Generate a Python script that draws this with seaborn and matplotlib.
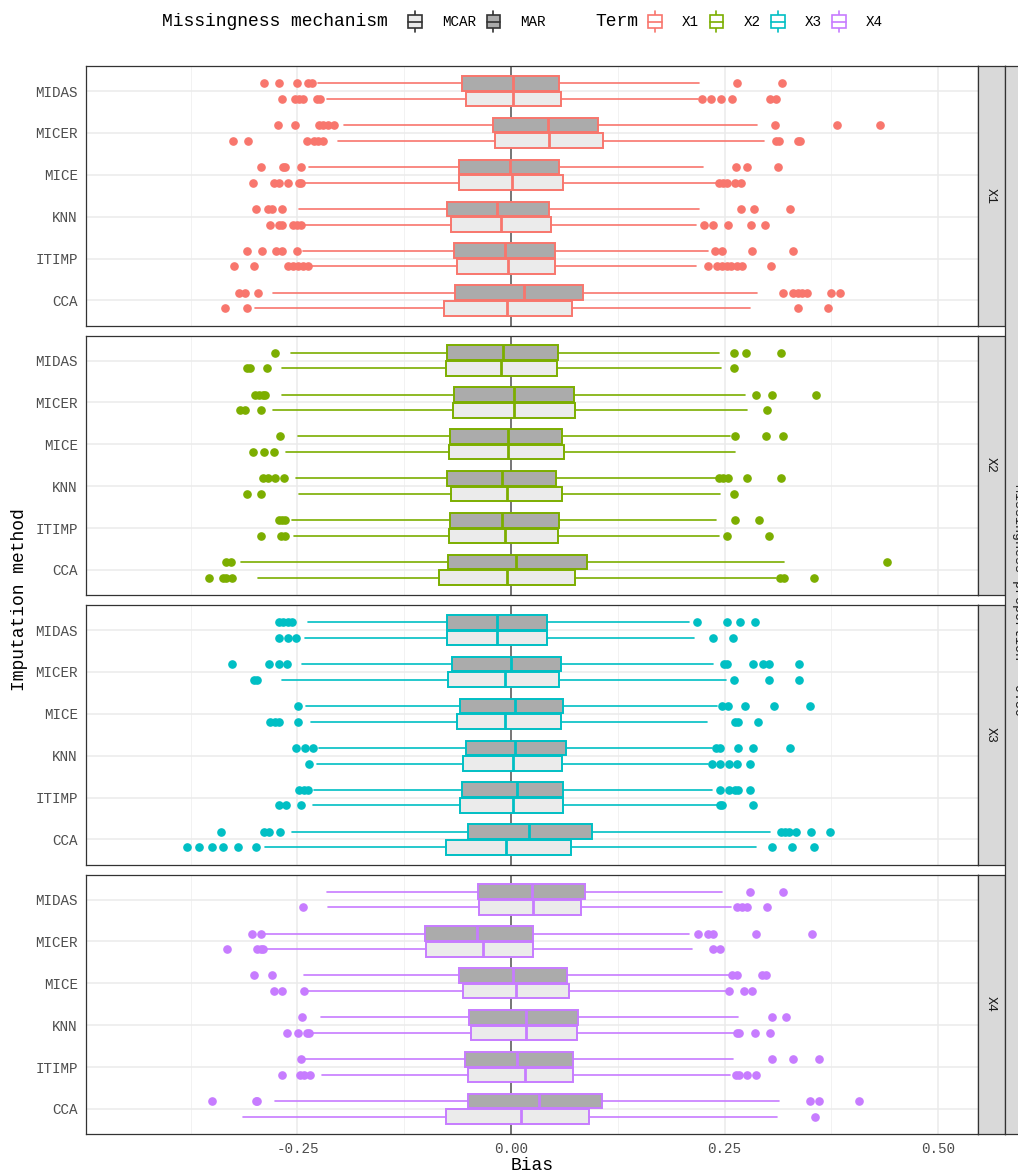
import matplotlib
matplotlib.use("Agg")
import numpy as np
import matplotlib.pyplot as plt
import matplotlib.patches as mpatches
import matplotlib.lines as mlines
from matplotlib.legend_handler import HandlerBase
from matplotlib.font_manager import FontProperties
import seaborn as sns

sns.set_theme(style="white")
plt.rcParams["font.family"] = ["Liberation Mono", "DejaVu Sans Mono"]

# ---------------------------------------------------------------- data
methods = ["CCA", "ITIMP", "KNN", "MICE", "MICER", "MIDAS"]
terms = ["X1", "X2", "X3", "X4"]
mechanisms = ["MCAR", "MAR"]
x_ticks = [-0.25, 0.0, 0.25, 0.50]
x_tick_labels = ["-0.25", "0.00", "0.25", "0.50"]

# rows follow `methods`; columns: lower whisker, Q1, median, Q3, upper whisker
X1_MAR = [[-0.278, -0.0655, 0.0152, 0.0839, 0.288],
          [-0.243, -0.0667, -0.007, 0.052, 0.231],
          [-0.248, -0.0745, -0.016, 0.045, 0.220],
          [-0.236, -0.0605, -0.001, 0.0566, 0.225],
          [-0.196, -0.0207, 0.0437, 0.102, 0.2876],
          [-0.2255, -0.0577, 0.002, 0.0566, 0.220]]
X1_MAR_OUT = [[-0.318, -0.311, -0.296, 0.318, 0.330, 0.336, 0.341, 0.347, 0.375, 0.385],
              [-0.309, -0.291, -0.2755, -0.268, -0.251, 0.239, 0.2466, 0.2825, 0.330],
              [-0.298, -0.284, -0.280, -0.268, 0.269, 0.284, 0.327],
              [-0.293, -0.267, -0.2645, -0.246, 0.263, 0.276, 0.312],
              [-0.273, -0.253, -0.225, -0.220, -0.214, -0.207, 0.309, 0.381, 0.432],
              [-0.289, -0.271, -0.250, -0.237, -0.233, 0.2645, 0.317]]
X1_MCAR = [[-0.2997, -0.078, -0.005, 0.072, 0.2797],
           [-0.235, -0.0636, -0.004, 0.0515, 0.217],
           [-0.243, -0.0706, -0.012, 0.0464, 0.216],
           [-0.243, -0.0605, 0.0016, 0.061, 0.241],
           [-0.202, -0.0187, 0.0445, 0.108, 0.2965],
           [-0.215, -0.0527, 0.0027, 0.058, 0.219]]
X1_MCAR_OUT = [[-0.335, -0.309, 0.3355, 0.3707],
               [-0.324, -0.301, -0.261, -0.255, -0.249, -0.243, -0.237,
                0.231, 0.241, 0.2466, 0.2524, 0.2575, 0.264, 0.270, 0.304],
               [-0.282, -0.272, -0.268, -0.2555, -0.250, -0.246, 0.226, 0.236, 0.2536, 0.2805, 0.297],
               [-0.302, -0.277, -0.272, -0.261, -0.248, -0.246, 0.243, 0.2485, 0.2525, 0.262, 0.269],
               [-0.325, -0.308, -0.239, -0.231, -0.2255, -0.220, 0.310, 0.314, 0.3355, 0.338],
               [-0.268, -0.253, -0.248, -0.244, -0.227, -0.2236, 0.224, 0.234, 0.246, 0.259, 0.303, 0.310]]

X2_MAR = [[-0.316, -0.0733, 0.0059, 0.0893, 0.320],
          [-0.2567, -0.0714, -0.011, 0.0566, 0.2396],
          [-0.252, -0.0745, -0.010, 0.0523, 0.2407],
          [-0.2497, -0.0714, -0.003, 0.0593, 0.2563],
          [-0.268, -0.0667, 0.0039, 0.0737, 0.274],
          [-0.258, -0.0753, -0.0098, 0.0554, 0.2435]]
X2_MAR_OUT = [[-0.333, -0.3277, 0.4397],
              [-0.271, -0.268, -0.265, 0.262, 0.2907],
              [-0.2907, -0.284, -0.276, -0.266, 0.243, 0.2485, 0.2536, 0.2766, 0.3155],
              [-0.270, 0.262, 0.298, 0.318],
              [-0.2997, -0.295, -0.290, -0.288, 0.2868, 0.306, 0.3566],
              [-0.276, 0.2614, 0.2747, 0.316]]
X2_MCAR = [[-0.2957, -0.0843, -0.005, 0.0749, 0.310],
           [-0.254, -0.0722, -0.007, 0.0546, 0.2435],
           [-0.248, -0.0702, -0.005, 0.0593, 0.2446],
           [-0.2638, -0.0722, -0.003, 0.0624, 0.262],
           [-0.279, -0.0675, 0.0035, 0.0745, 0.276],
           [-0.2677, -0.076, -0.0117, 0.0542, 0.2458]]
X2_MCAR_OUT = [[-0.353, -0.337, -0.333, -0.326, 0.3149, 0.320, 0.3547],
               [-0.293, -0.269, -0.2645, 0.2524, 0.302],
               [-0.309, -0.293, 0.2606],
               [-0.3016, -0.2887, -0.277],
               [-0.317, -0.311, -0.293, 0.300],
               [-0.309, -0.306, -0.286, 0.2606]]

X3_MAR = [[-0.2567, -0.0507, 0.0215, 0.0944, 0.303],
          [-0.2306, -0.0577, 0.0074, 0.0613, 0.2349],
          [-0.2243, -0.0527, 0.0047, 0.064, 0.2349],
          [-0.240, -0.0597, 0.0047, 0.0613, 0.2407],
          [-0.245, -0.0687, 0.0, 0.058, 0.2368],
          [-0.237, -0.0745, -0.016, 0.0417, 0.2087]]
X3_MAR_OUT = [[-0.3398, -0.2887, -0.283, -0.270, 0.316, 0.3207, 0.3254, 0.334, 0.3508, 0.3734],
              [-0.248, -0.2423, -0.237, 0.2446, 0.2548, 0.262, 0.266, 0.2797],
              [-0.2517, -0.241, -0.232, 0.240, 0.2446, 0.2653, 0.2836, 0.3266],
              [-0.249, 0.2466, 0.2544, 0.274, 0.3078, 0.3496],
              [-0.326, -0.283, -0.271, -0.2626, 0.2493, 0.2524, 0.283, 0.2954, 0.302, 0.337],
              [-0.272, -0.267, -0.2615, -0.256, 0.218, 0.253, 0.268, 0.2856]]
X3_MCAR = [[-0.288, -0.076, -0.006, 0.0702, 0.2864],
           [-0.2314, -0.0597, 0.002, 0.0613, 0.2407],
           [-0.2267, -0.0566, 0.0027, 0.060, 0.231],
           [-0.2345, -0.0628, -0.007, 0.058, 0.229],
           [-0.2677, -0.0733, -0.007, 0.0566, 0.2517],
           [-0.241, -0.0753, -0.016, 0.0417, 0.214]]
X3_MCAR_OUT = [[-0.3796, -0.365, -0.3504, -0.3375, -0.319, -0.2989, 0.305, 0.3293, 0.3547],
               [-0.272, -0.2638, -0.2458, 0.2446, 0.2466, 0.2836],
               [-0.2364, 0.2357, 0.2446, 0.2548, 0.2641, 0.2797],
               [-0.282, -0.276, -0.271, -0.249, 0.262, 0.266, 0.2887],
               [-0.301, -0.297, 0.2606, 0.302, 0.337],
               [-0.271, -0.2614, -0.252, 0.236, 0.260]]

X4_MAR = [[-0.2762, -0.0507, 0.0328, 0.1061, 0.3137],
          [-0.243, -0.0538, 0.0074, 0.073, 0.260],
          [-0.2228, -0.0488, 0.0176, 0.078, 0.2661],
          [-0.2423, -0.0609, 0.002, 0.065, 0.2563],
          [-0.288, -0.1007, -0.0402, 0.026, 0.2087],
          [-0.2158, -0.039, 0.0242, 0.0866, 0.2474]]
X4_MAR_OUT = [[-0.350, -0.2985, -0.297, 0.350, 0.360, 0.4077],
              [-0.2458, 0.3051, 0.330, 0.360],
              [-0.245, 0.3051, 0.3215],
              [-0.3008, -0.280, 0.259, 0.264, 0.294, 0.299],
              [-0.3028, -0.2926, 0.2193, 0.231, 0.236, 0.2868, 0.3527],
              [0.2797, 0.318]]
X4_MCAR = [[-0.314, -0.0765, 0.0113, 0.0913, 0.311],
           [-0.2216, -0.050, 0.0164, 0.073, 0.2563],
           [-0.2333, -0.0468, 0.0176, 0.0769, 0.262],
           [-0.240, -0.0558, 0.0059, 0.0679, 0.2524],
           [-0.287, -0.0995, -0.0332, 0.026, 0.2122],
           [-0.2146, -0.0371, 0.026, 0.0819, 0.2571]]
X4_MCAR_OUT = [[0.3558],
               [-0.2684, -0.247, -0.2423, -0.235, 0.2634, 0.267, 0.2766, 0.2864],
               [-0.2626, -0.2497, -0.239, -0.236, 0.264, 0.267, 0.2856, 0.303],
               [-0.2774, -0.2684, -0.2423, 0.2555, 0.2727, 0.2825],
               [-0.332, -0.297, -0.2926, -0.290, 0.2368, 0.2446],
               [-0.2439, 0.265, 0.270, 0.276, 0.300]]

panel_data = {
    "X1": {"MAR": (X1_MAR, X1_MAR_OUT), "MCAR": (X1_MCAR, X1_MCAR_OUT)},
    "X2": {"MAR": (X2_MAR, X2_MAR_OUT), "MCAR": (X2_MCAR, X2_MCAR_OUT)},
    "X3": {"MAR": (X3_MAR, X3_MAR_OUT), "MCAR": (X3_MCAR, X3_MCAR_OUT)},
    "X4": {"MAR": (X4_MAR, X4_MAR_OUT), "MCAR": (X4_MCAR, X4_MCAR_OUT)},
}

# ---------------------------------------------------------------- styling
term_colors = dict(zip(terms, ["#F8766D", "#7CAE00", "#00BFC4", "#C77CFF"]))
mech_fill = {"MCAR": "#EBEBEB", "MAR": "#ABABAB"}
mech_offset = {"MCAR": -0.1875, "MAR": 0.1875}
box_width = 0.35
mono = "Liberation Mono"

W, H = 1018, 1174
fig = plt.figure(figsize=(W / 100, H / 100), dpi=100)


def fx(px):
    return px / W


def fy(px):
    return 1 - px / H


panel_left, panel_right = 86, 978
panel_tops = [66, 335.5, 605, 874.5]
panel_h = 259.5
xlim = (-0.4974, 0.5466)


def to_stats(table, outliers):
    return [dict(whislo=r[0], q1=r[1], med=r[2], q3=r[3], whishi=r[4],
                 fliers=np.asarray(o, dtype=float))
            for r, o in zip(table, outliers)]


base_pos = np.arange(1, len(methods) + 1, dtype=float)

for i, term in enumerate(terms):
    top = panel_tops[i]
    ax = fig.add_axes([fx(panel_left), fy(top + panel_h),
                       fx(panel_right - panel_left), panel_h / H])
    ax.set_facecolor("white")
    col = term_colors[term]

    # grid
    for gx in [-0.375, -0.125, 0.125, 0.375]:
        ax.axvline(gx, color="#F2F2F2", lw=0.7, zorder=0)
    for gx in x_ticks:
        ax.axvline(gx, color="#EBEBEB", lw=1.1, zorder=0)
    for gy in base_pos:
        ax.axhline(gy, color="#EBEBEB", lw=1.1, zorder=0)
    ax.axvline(0, color="#555555", lw=1.1, zorder=0.5)

    for mech in ["MAR", "MCAR"]:
        table, outs = panel_data[term][mech]
        ax.bxp(to_stats(table, outs),
               positions=base_pos + mech_offset[mech],
               widths=box_width, orientation="horizontal",
               patch_artist=True, showcaps=False, manage_ticks=False,
               boxprops=dict(facecolor=mech_fill[mech], edgecolor=col, linewidth=1.4),
               medianprops=dict(color=col, linewidth=2.0),
               whiskerprops=dict(color=col, linewidth=1.2),
               flierprops=dict(marker="o", markerfacecolor=col, markeredgecolor=col,
                               markersize=5.2, linestyle="none"))

    ax.set_xlim(*xlim)
    ax.set_ylim(0.4, len(methods) + 0.6)
    ax.set_yticks(base_pos)
    ax.set_yticklabels(methods, fontsize=10.3, color="#4D4D4D", family=mono)
    ax.set_xticks(x_ticks)
    if i == len(terms) - 1:
        ax.set_xticklabels(x_tick_labels, fontsize=10.3, color="#4D4D4D", family=mono)
        ax.tick_params(axis="x", length=3, width=0.9, color="#333333", pad=3)
    else:
        ax.set_xticklabels([])
        ax.tick_params(axis="x", length=0)
    ax.tick_params(axis="y", length=3, width=0.9, color="#333333", pad=3)
    for s in ax.spines.values():
        s.set_color("#333333")
        s.set_linewidth(0.9)
    ax.grid(False)

    # facet strip for the term
    sax = fig.add_axes([fx(panel_right), fy(top + panel_h), fx(26.5), panel_h / H])
    sax.set_facecolor("#D9D9D9")
    sax.set_xticks([])
    sax.set_yticks([])
    for s in sax.spines.values():
        s.set_color("#333333")
        s.set_linewidth(0.9)
    sax.text(0.5, 0.5, term, rotation=-90, ha="center", va="center",
             fontsize=9.5, color="#1A1A1A", family=mono, transform=sax.transAxes)

# outer strip spanning all panels
oax = fig.add_axes([fx(1004.5), fy(panel_tops[-1] + panel_h), fx(27),
                    (panel_tops[-1] + panel_h - panel_tops[0]) / H])
oax.set_facecolor("#D9D9D9")
oax.set_xticks([])
oax.set_yticks([])
for s in oax.spines.values():
    s.set_color("#333333")
    s.set_linewidth(0.9)
oax.text(0.5, 0.5, "Missingness proportion = 0.50", rotation=-90, ha="center",
         va="center", fontsize=9.5, color="#1A1A1A", family=mono,
         transform=oax.transAxes)

# axis titles
fig.text(fx((panel_left + panel_right) / 2), fy(1165), "Bias", ha="center",
         va="center", fontsize=13, color="black", family=mono)
fig.text(fx(20), fy(600), "Imputation method", rotation=90, ha="center",
         va="center", fontsize=13, color="black", family=mono)


# ---------------------------------------------------------------- legends
class BoxKey(HandlerBase):
    def create_artists(self, legend, orig_handle, xdescent, ydescent,
                       width, height, fontsize, trans):
        fc = orig_handle.get_facecolor()
        ec = orig_handle.get_edgecolor()
        cx = width / 2 - xdescent
        cy = height / 2 - ydescent
        bw = width * 0.68
        bh = height
        whisker = mlines.Line2D([cx, cx], [cy - height * 0.78, cy + height * 0.78],
                                color=ec, lw=1.2, transform=trans)
        box = mpatches.Rectangle((cx - bw / 2, cy - bh / 2), bw, bh, facecolor=fc,
                                 edgecolor=ec, lw=1.2, transform=trans)
        med = mlines.Line2D([cx - bw / 2, cx + bw / 2], [cy, cy], color=ec,
                            lw=1.2, transform=trans)
        return [whisker, box, med]


leg_font = FontProperties(family=mono, size=10.3)
leg_y = fy(22)
fig.text(fx(162), leg_y, "Missingness mechanism", ha="left", va="center",
         fontsize=13, color="black", family=mono)
mech_handles = [mpatches.Patch(facecolor=mech_fill[m], edgecolor="#333333")
                for m in mechanisms]
leg1 = fig.legend(mech_handles, mechanisms, loc="center left",
                  bbox_to_anchor=(fx(405), leg_y), ncol=2, frameon=False,
                  prop=leg_font, handler_map={mpatches.Patch: BoxKey()},
                  handlelength=1.4, handleheight=1.1, handletextpad=1.2,
                  columnspacing=0.5, borderpad=0, borderaxespad=0)
for t in leg1.get_texts():
    t.set_color("black")

fig.text(fx(595), leg_y, "Term", ha="left", va="center", fontsize=13,
         color="black", family=mono)
term_handles = [mpatches.Patch(facecolor="white", edgecolor=term_colors[t])
                for t in terms]
leg2 = fig.legend(term_handles, terms, loc="center left",
                  bbox_to_anchor=(fx(645), leg_y), ncol=4, frameon=False,
                  prop=leg_font, handler_map={mpatches.Patch: BoxKey()},
                  handlelength=1.4, handleheight=1.1, handletextpad=1.2,
                  columnspacing=0.5, borderpad=0, borderaxespad=0)
for t in leg2.get_texts():
    t.set_color("black")

fig.savefig("out.png", dpi=100, facecolor="white")
